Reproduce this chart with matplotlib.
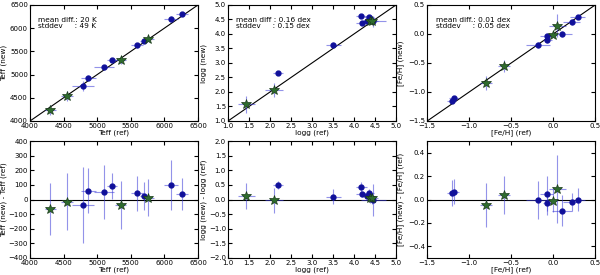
import numpy as np
import matplotlib
matplotlib.use("Agg")
import matplotlib.pyplot as plt

# stars: 4 "stars" (green) followed by 8 "circles" (blue)
is_star = np.array([1, 1, 1, 1, 0, 0, 0, 0, 0, 0, 0, 0], dtype=bool)

teff_ref = np.array([4300, 4550, 5350, 5760, 4790, 4870, 5100, 5220, 5590, 5700, 6100, 6260])
teff_new = np.array([4235, 4535, 5313, 5772, 4753, 4930, 5153, 5314, 5632, 5722, 6198, 6295])
teff_ref_err = np.array([80, 95, 80, 80, 160, 110, 145, 70, 85, 65, 100, 85])
teff_new_err = np.array([110, 110, 80, 55, 100, 55, 45, 45, 50, 40, 70, 40])
teff_diff_err = np.array([180, 195, 167, 125, 262, 153, 183, 90, 122, 95, 170, 110])

logg_ref = np.array([1.44, 2.10, 4.39, 4.42, 2.18, 3.51, 4.17, 4.20, 4.30, 4.36, 4.38, 4.46])
logg_new = np.array([1.57, 2.07, 4.45, 4.46, 2.67, 3.61, 4.61, 4.38, 4.43, 4.57, 4.47, 4.43])
logg_ref_err = np.array([0.20, 0.22, 0.12, 0.15, 0.12, 0.18, 0.13, 0.15, 0.10, 0.12, 0.15, 0.30])
logg_new_err = np.array([0.30, 0.25, 0.08, 0.10, 0.05, 0.10, 0.06, 0.08, 0.08, 0.10, 0.12, 0.20])
logg_diff_err = np.array([0.45, 0.42, 0.15, 0.20, 0.13, 0.27, 0.17, 0.10, 0.10, 0.15, 0.20, 0.55])

feh_ref = np.array([-0.59, -0.80, 0.05, 0.00, -1.21, -1.18, -0.18, -0.077, -0.07, 0.10, 0.22, 0.29])
feh_new = np.array([-0.55, -0.845, 0.14, -0.01, -1.154, -1.112, -0.185, -0.029, -0.10, 0.005, 0.20, 0.29])
feh_ref_err = np.array([0.07, 0.07, 0.10, 0.04, 0.05, 0.06, 0.14, 0.08, 0.05, 0.12, 0.10, 0.09])
feh_new_err = np.array([0.10, 0.12, 0.20, 0.05, 0.04, 0.04, 0.05, 0.05, 0.05, 0.05, 0.05, 0.04])
feh_diff_err = np.array([0.16, 0.19, 0.29, 0.10, 0.11, 0.11, 0.165, 0.15, 0.10, 0.13, 0.08, 0.10])

panels = [
    ("Teff", teff_ref, teff_new, teff_ref_err, teff_new_err, teff_diff_err,
     (4000, 6500), (-400, 400), np.arange(4000, 6501, 500), np.arange(-400, 401, 100),
     "mean diff.: 20 K\nstddev     : 49 K"),
    ("logg", logg_ref, logg_new, logg_ref_err, logg_new_err, logg_diff_err,
     (1.0, 5.0), (-2.0, 2.0), np.arange(1.0, 5.01, 0.5), np.arange(-2.0, 2.01, 0.5),
     "mean diff : 0.16 dex\nstddev     : 0.15 dex"),
    ("[Fe/H]", feh_ref, feh_new, feh_ref_err, feh_new_err, feh_diff_err,
     (-1.5, 0.5), (-0.5, 0.5), np.arange(-1.5, 0.51, 0.5), np.arange(-0.4, 0.41, 0.2),
     "mean diff.: 0.01 dex\nstddev     : 0.05 dex"),
]

plt.rcParams["font.size"] = 5.3
plt.rcParams["xtick.labelsize"] = 5.0
plt.rcParams["ytick.labelsize"] = 5.0
plt.rcParams["xtick.direction"] = "in"
plt.rcParams["ytick.direction"] = "in"
plt.rcParams["xtick.top"] = True
plt.rcParams["ytick.right"] = True
plt.rcParams["xtick.major.size"] = 3
plt.rcParams["ytick.major.size"] = 3
plt.rcParams["xtick.major.pad"] = 1.5
plt.rcParams["ytick.major.pad"] = 1.5
plt.rcParams["axes.linewidth"] = 0.8

fig = plt.figure(figsize=(6, 2.75), dpi=100)
lefts = [0.05, 0.38, 0.712]
ylab_x = [-0.155, -0.145, -0.16]
width = 0.28

err_kw = dict(fmt="none", ecolor="#3a3ad8", elinewidth=0.8, alpha=0.55, capsize=0)
circ_kw = dict(ls="none", marker="o", ms=3.5, mfc="#10109a", mec="#10109a")
star_kw = dict(ls="none", marker="*", ms=7.5, mfc="#2e6b2e", mec="#1a3a1a", mew=0.5)

for left, lx, (name, ref, new, rerr, nerr, derr, lim, dlim, ticks, dticks, txt) in zip(lefts, ylab_x, panels):
    diff = new - ref

    ax = fig.add_axes([left, 0.56, width, 0.422])
    ax.plot(lim, lim, color="k", lw=0.8)
    ax.errorbar(ref, new, xerr=rerr, yerr=nerr, **err_kw)
    ax.plot(ref[~is_star], new[~is_star], **circ_kw)
    ax.plot(ref[is_star], new[is_star], **star_kw)
    ax.set_xlim(lim)
    ax.set_ylim(lim)
    ax.set_xticks(ticks)
    ax.set_yticks(ticks)
    ax.set_xlabel(name + " (ref)", va="center")
    ax.set_ylabel(name + " (new)", va="center")
    ax.xaxis.set_label_coords(0.5, -0.1)
    ax.yaxis.set_label_coords(lx, 0.5)
    ax.text(0.05, 0.9, txt, transform=ax.transAxes, va="top", ha="left", linespacing=1.1)

    ax2 = fig.add_axes([left, 0.062, width, 0.425])
    ax2.axhline(0, color="k", lw=0.8)
    ax2.errorbar(ref, diff, xerr=rerr, yerr=derr, **err_kw)
    ax2.plot(ref[~is_star], diff[~is_star], **circ_kw)
    ax2.plot(ref[is_star], diff[is_star], **star_kw)
    ax2.set_xlim(lim)
    ax2.set_ylim(dlim)
    ax2.set_xticks(ticks)
    ax2.set_yticks(dticks)
    ax2.set_xlabel(name + " (ref)", va="center")
    ax2.set_ylabel(name + " (new) - " + name + " (ref)", va="center")
    ax2.xaxis.set_label_coords(0.5, -0.1)
    ax2.yaxis.set_label_coords(lx, 0.5)

fig.savefig("out.png", dpi=100)
